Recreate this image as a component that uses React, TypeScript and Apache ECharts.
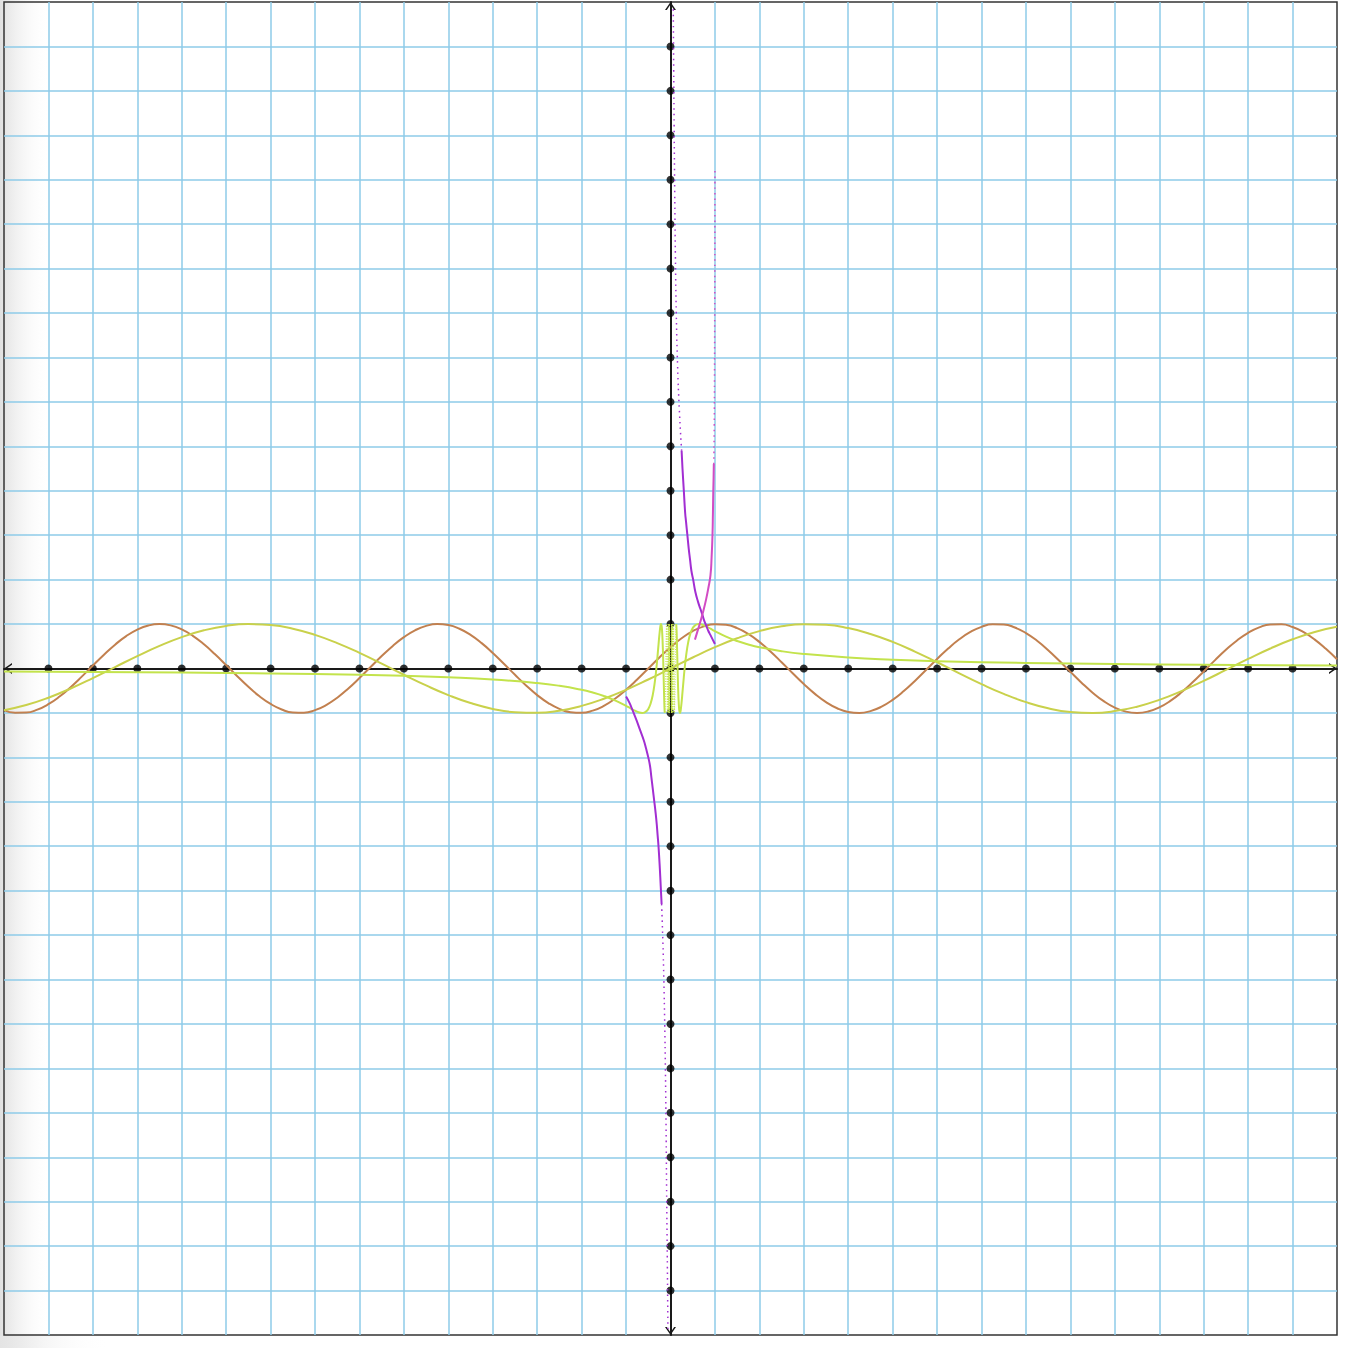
import React, { useEffect, useRef } from "react";
import * as echarts from "echarts";

// ---- data ----
const ticks = [-14, -13, -12, -11, -10, -9, -8, -7, -6, -5, -4, -3, -2, -1, 0, 1, 2, 3, 4, 5, 6, 7, 8, 9, 10, 11, 12, 13, 14];

// sampling grids (x positions only)
const grid = (from: number, to: number, step: number) => {
  const out: number[] = [];
  for (let v = from; v <= to + 1e-9; v += step) out.push(Math.round(v * 1000) / 1000);
  return out;
};

// brown wave, values read every 0.25 from x = -15 to 15
const brownX = grid(-15, 15, 0.25);
const brownY = [
  -0.9349, -0.9937, -0.9906, -0.9262, -0.8038, -0.6318, -0.4202, -0.1826, 0.0663, 0.3111, 0.5366, 0.7287,
  0.8755, 0.9679, 1.0, 0.97, 0.8797, 0.7346, 0.544, 0.3195, 0.0752, -0.1739, -0.4121, -0.6248, -0.7985,
  -0.9224, -0.9894, -0.9946, -0.938, -0.8232, -0.657, -0.45, -0.2151, 0.0332, 0.2794, 0.5083, 0.7055, 0.8589,
  0.9589, 0.9993, 0.9775, 0.895, 0.7568, 0.5716, 0.3508, 0.1082, -0.1411, -0.3817, -0.5985, -0.7781, -0.9093,
  -0.984, -0.9975, -0.949, -0.8415, -0.6816, -0.4794, -0.2474,
  0,
  0.2474, 0.4794, 0.6816, 0.8415, 0.949, 0.9975, 0.984, 0.9093, 0.7781, 0.5985, 0.3817, 0.1411, -0.1082,
  -0.3508, -0.5716, -0.7568, -0.895, -0.9775, -0.9993, -0.9589, -0.8589, -0.7055, -0.5083, -0.2794, -0.0332,
  0.2151, 0.45, 0.657, 0.8232, 0.938, 0.9946, 0.9894, 0.9224, 0.7985, 0.6248, 0.4121, 0.1739, -0.0752,
  -0.3195, -0.544, -0.7346, -0.8797, -0.97, -1.0, -0.9679, -0.8755, -0.7287, -0.5366, -0.3111, -0.0663,
  0.1826, 0.4202, 0.6318, 0.8038, 0.9262, 0.9906, 0.9937, 0.9349, 0.8181, 0.6503, 0.4422, 0.2065,
];

// slow yellow wave, values read every 0.5 from x = -15 to 15
const yellowX = grid(-15, 15, 0.5);
const yellowY = [
  -0.938, -0.8232, -0.657, -0.45, -0.2151, 0.0332, 0.2794, 0.5083, 0.7055, 0.8589, 0.9589, 0.9993, 0.9775,
  0.895, 0.7568, 0.5716, 0.3508, 0.1082, -0.1411, -0.3817, -0.5985, -0.7781, -0.9093, -0.984, -0.9975, -0.949,
  -0.8415, -0.6816, -0.4794, -0.2474,
  0,
  0.2474, 0.4794, 0.6816, 0.8415, 0.949, 0.9975, 0.984, 0.9093, 0.7781, 0.5985, 0.3817, 0.1411, -0.1082,
  -0.3508, -0.5716, -0.7568, -0.895, -0.9775, -0.9993, -0.9589, -0.8589, -0.7055, -0.5083, -0.2794, -0.0332,
  0.2151, 0.45, 0.657, 0.8232, 0.938,
];

// lime oscillating curve, outer parts
const limeRightX = [15, 12, 10, 8, 6, 5, 4, 3, 2.5, 2, 1.75, 1.5, 1.25, 1, 0.9, 0.8, 0.7, 0.6366, 0.58, 0.55, 0.5, 0.45, 0.4, 0.35, 0.3183, 0.3, 0.27, 0.25, 0.23, 0.22, 0.2122, 0.205, 0.2, 0.19, 0.18, 0.17, 0.1592, 0.15, 0.14, 0.133, 0.1273];
const limeRightY = [0.0666, 0.0832, 0.0998, 0.1247, 0.1659, 0.1987, 0.2474, 0.3272, 0.3894, 0.4794, 0.5408, 0.6184, 0.7174, 0.8415, 0.8961, 0.949, 0.9899, 1, 0.988, 0.9697, 0.9093, 0.7949, 0.5985, 0.2794, 0, -0.1906, -0.533, -0.7568, -0.934, -0.986, -1, -0.986, -0.9589, -0.852, -0.664, -0.39, 0, 0.374, 0.758, 0.944, 1];
const limeLeftX = [-15, -12, -10, -8, -6, -5, -4, -3, -2.5, -2, -1.75, -1.5, -1.25, -1, -0.9, -0.8, -0.7, -0.6366, -0.58, -0.55, -0.5, -0.45, -0.4, -0.35, -0.3183, -0.3, -0.27, -0.25, -0.23, -0.22, -0.2122, -0.205, -0.2, -0.19, -0.18, -0.17, -0.1592, -0.15, -0.14, -0.133, -0.1273];
const limeLeftY = [-0.0666, -0.0832, -0.0998, -0.1247, -0.1659, -0.1987, -0.2474, -0.3272, -0.3894, -0.4794, -0.5408, -0.6184, -0.7174, -0.8415, -0.8961, -0.949, -0.9899, -1, -0.988, -0.9697, -0.9093, -0.7949, -0.5985, -0.2794, 0, 0.1906, 0.533, 0.7568, 0.934, 0.986, 1, 0.986, 0.9589, 0.852, 0.664, 0.39, 0, -0.374, -0.758, -0.944, -1];
// lime dense inner part
const limeInnerX = [0.1273, 0.12, 0.11, 0.1061, 0.1, 0.0909, 0.0707, 0.0579, 0.049, 0.0424, 0.0374, 0.0335, 0.0303, 0.0277, 0.0255, 0.0236, 0.022, 0.0205, -0.0205, -0.022, -0.0236, -0.0255, -0.0277, -0.0303, -0.0335, -0.0374, -0.0424, -0.049, -0.0579, -0.0707, -0.0909, -0.1, -0.1061, -0.11, -0.12, -0.1273];
const limeInnerY = [1, 0.887, 0.327, 0, -0.544, -1, 1, -1, 1, -1, 1, -1, 1, -1, 1, -1, 1, -1, 1, -1, 1, -1, 1, -1, 1, -1, 1, -1, 1, -1, 1, 0.544, 0, -0.327, -0.887, -1];

// purple curve
const purpleLeftX = [-1, -0.92, -0.85, -0.77, -0.69, -0.6, -0.55, -0.5, -0.46, -0.43, -0.4, -0.364, -0.335, -0.31, -0.29, -0.27, -0.24, -0.22, -0.2];
const purpleLeftY = [-0.63, -0.78, -0.95, -1.15, -1.37, -1.62, -1.8, -2, -2.2, -2.45, -2.7, -3, -3.25, -3.5, -3.75, -4, -4.5, -4.9, -5.3];
const purpleLeftDotX = [-0.2, -0.17, -0.15, -0.13, -0.115, -0.1, -0.085, -0.07, -0.058];
const purpleLeftDotY = [-5.3, -6.2, -7, -8, -9, -10.3, -12, -13.5, -14.9];
const purpleRightX = [1, 0.95, 0.9, 0.85, 0.81, 0.76, 0.72, 0.67, 0.62, 0.56, 0.51, 0.47, 0.44, 0.41, 0.38, 0.35, 0.33, 0.3, 0.27, 0.25];
const purpleRightY = [0.55, 0.65, 0.75, 0.85, 0.95, 1.07, 1.2, 1.35, 1.5, 1.72, 2, 2.2, 2.45, 2.7, 3, 3.3, 3.5, 4, 4.5, 4.9];
const purpleRightDotX = [0.25, 0.2, 0.16, 0.13, 0.11, 0.095, 0.082, 0.072, 0.062];
const purpleRightDotY = [4.9, 5.8, 6.8, 8, 9.3, 10.7, 12.2, 13.5, 14.9];

// magenta curve
const magentaX = [0.55, 0.62, 0.68, 0.74, 0.8, 0.85, 0.9, 0.925, 0.945, 0.955, 0.963, 0.97, 0.975];
const magentaY = [0.65, 0.88, 1.08, 1.3, 1.55, 1.8, 2.1, 2.5, 3, 3.5, 4, 4.3, 4.6];
const magentaDotX = [0.975, 0.985, 0.99, 0.995, 0.998, 1];
const magentaDotY = [4.6, 5.5, 6.5, 8, 9.5, 11.2];

// ---- helpers ----
const zip = (xs: number[], ys: number[]) => xs.map((x, i) => [x, ys[i]]);

const ARROW = "path://M0,8 L5.5,0 L11,8 L9.2,8 L5.5,2.6 L1.8,8 Z";

const axisCommon = () => ({
  type: "value",
  min: -15,
  max: 15,
  interval: 1,
  axisLine: {
    show: true,
    onZero: true,
    symbol: [ARROW, ARROW],
    symbolSize: [11, 8],
    symbolOffset: [4, -4],
    lineStyle: { color: "#1a1a1a", width: 2 },
  },
  axisTick: { show: false },
  axisLabel: { show: false },
  splitLine: { show: true, showMinLine: false, showMaxLine: false, lineStyle: { color: "#8ecbe8", width: 1.5 } },
});

const solid = (data: number[][], color: string, z = 4) => ({
  type: "line",
  data,
  symbol: "none",
  showSymbol: false,
  smooth: true,
  silent: true,
  z,
  lineStyle: { color, width: 2 },
});

const dotted = (data: number[][], color: string, width = 1.5, dash: number[] = [1.5, 4], smooth = true) => ({
  type: "line",
  data,
  symbol: "none",
  showSymbol: false,
  smooth,
  silent: true,
  z: 4,
  lineStyle: { color, width, type: dash },
});

const BROWN = "#c2804f";
const YELLOW = "#c9d14b";
const LIME = "#c3e34c";
const PURPLE = "#a22ed2";
const MAGENTA = "#d24cc4";

export default function App() {
  const ref = useRef<HTMLDivElement>(null);
  useEffect(() => {
    const chart = echarts.init(ref.current!, null, { renderer: "svg" });
    const tickDots = [...ticks.map((t) => [t, 0]), ...ticks.map((t) => [0, t])];
    chart.setOption({
      animation: false,
      backgroundColor: "#ffffff",
      grid: {
        left: 4,
        top: 2,
        right: 13,
        bottom: 13,
        show: true,
        borderColor: "#333",
        borderWidth: 1.5,
        backgroundColor: "transparent",
      },
      graphic: [
        {
          type: "rect",
          z: -10,
          silent: true,
          shape: { x: 0, y: 0, width: 50, height: 1348 },
          style: {
            fill: new echarts.graphic.LinearGradient(0, 0, 1, 0, [
              { offset: 0, color: "#e0e0e0" },
              { offset: 1, color: "rgba(255,255,255,0)" },
            ]),
          },
        },
        {
          type: "rect",
          z: -10,
          silent: true,
          shape: { x: 0, y: 1336, width: 110, height: 12 },
          style: {
            fill: new echarts.graphic.LinearGradient(0, 0, 1, 0, [
              { offset: 0, color: "#e4e4e4" },
              { offset: 1, color: "rgba(255,255,255,0)" },
            ]),
          },
        },
      ],
      xAxis: axisCommon(),
      yAxis: axisCommon(),
      series: [
        {
          type: "scatter",
          data: tickDots,
          symbol: "circle",
          symbolSize: 8,
          silent: true,
          z: 3,
          itemStyle: { color: "#000" },
        },
        solid(zip(brownX, brownY), BROWN),
        solid(zip(yellowX, yellowY), YELLOW),
        solid(zip(limeLeftX, limeLeftY), LIME),
        solid(zip(limeRightX, limeRightY), LIME),
        dotted(zip(limeInnerX, limeInnerY), LIME, 1, [1, 1.5], false),
        solid(zip(purpleLeftX, purpleLeftY), PURPLE, 5),
        dotted(zip(purpleLeftDotX, purpleLeftDotY), PURPLE),
        solid(zip(purpleRightX, purpleRightY), PURPLE, 5),
        dotted(zip(purpleRightDotX, purpleRightDotY), PURPLE),
        solid(zip(magentaX, magentaY), MAGENTA, 5),
        dotted(zip(magentaDotX, magentaDotY), MAGENTA),
      ],
    });
    return () => chart.dispose();
  }, []);
  return (
    <div
      ref={ref}
      style={{ position: "absolute", left: 0, top: 0, width: 1350, height: 1348, background: "#fff" }}
    />
  );
}
